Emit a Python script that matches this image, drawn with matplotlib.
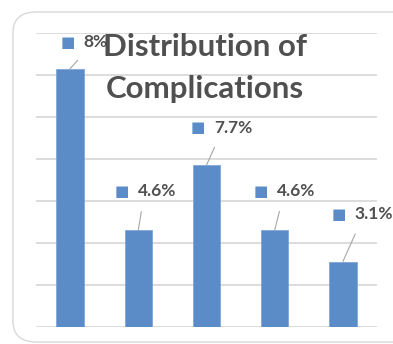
import matplotlib.pyplot as plt
from matplotlib.patches import FancyBboxPatch

# data
categories = ["A", "B", "C", "D", "E"]
values = [12.3, 4.6, 7.7, 4.6, 3.1]
labels = ["8%", "4.6%", "7.7%", "4.6%", "3.1%"]
yticks = [0, 2, 4, 6, 8, 10, 12, 14]

# label offsets (points) of the square key relative to bar top
label_offsets = [(-2, 19), (-12, 28), (-6, 27), (-10, 28), (-3, 34)]

bar_color = "#5B8CC8"
text_color = "#505050"
grid_color = "#D9D9D9"

plt.rcParams['font.family'] = ['Lato', 'DejaVu Sans']

fig = plt.figure(figsize=(3.93, 3.44), dpi=100)
fig.patch.set_facecolor("white")

# rounded chart border
border = FancyBboxPatch((13 / 393, 2 / 344), 1.2, 330 / 344,
                        boxstyle="round,pad=0,rounding_size=0.06",
                        transform=fig.transFigure, facecolor="none",
                        edgecolor=grid_color, linewidth=1.0, zorder=0)
fig.patches.append(border)

ax = fig.add_axes([36 / 393, 17.5 / 344, 341 / 393, 293.5 / 344])
ax.set_facecolor("none")
x = list(range(len(categories)))
ax.bar(x, values, width=0.4, color=bar_color, edgecolor="#7FA6D8",
       linewidth=0.6, zorder=3)
ax.set_xlim(-0.5, len(categories) - 0.5)
ax.set_ylim(0, 14)
ax.set_yticks(yticks)
ax.yaxis.grid(True, color=grid_color, linewidth=1.3)
ax.set_axisbelow(True)
for s in ax.spines.values():
    s.set_visible(False)
ax.tick_params(left=False, bottom=False, labelleft=False, labelbottom=False)

for xi, v, lab, (dx, dy) in zip(x, values, labels, label_offsets):
    # square legend key
    ax.annotate("\u25A0", xy=(xi, v), xytext=(dx, dy),
                textcoords="offset points", ha="center", va="center",
                color=bar_color, fontsize=11, family="DejaVu Sans",
                annotation_clip=False, zorder=5)
    # value text with leader line to bar top
    ax.annotate(lab, xy=(xi, v), xytext=(dx + 11.5, dy),
                textcoords="offset points", ha="left", va="center",
                color=text_color, fontsize=12.5, fontweight="bold",
                annotation_clip=False, zorder=5,
                arrowprops=dict(arrowstyle="-", color="#A6A6A6", lw=0.8,
                                shrinkA=7, shrinkB=0,
                                relpos=(0.15, 0.0)))

fig.text(205 / 393, 1 - 68 / 344, "Distribution of\nComplications",
         ha="center", va="center", fontsize=22.5, fontweight="bold",
         color=text_color, linespacing=1.6, zorder=10)

fig.savefig("out.png", dpi=100)
